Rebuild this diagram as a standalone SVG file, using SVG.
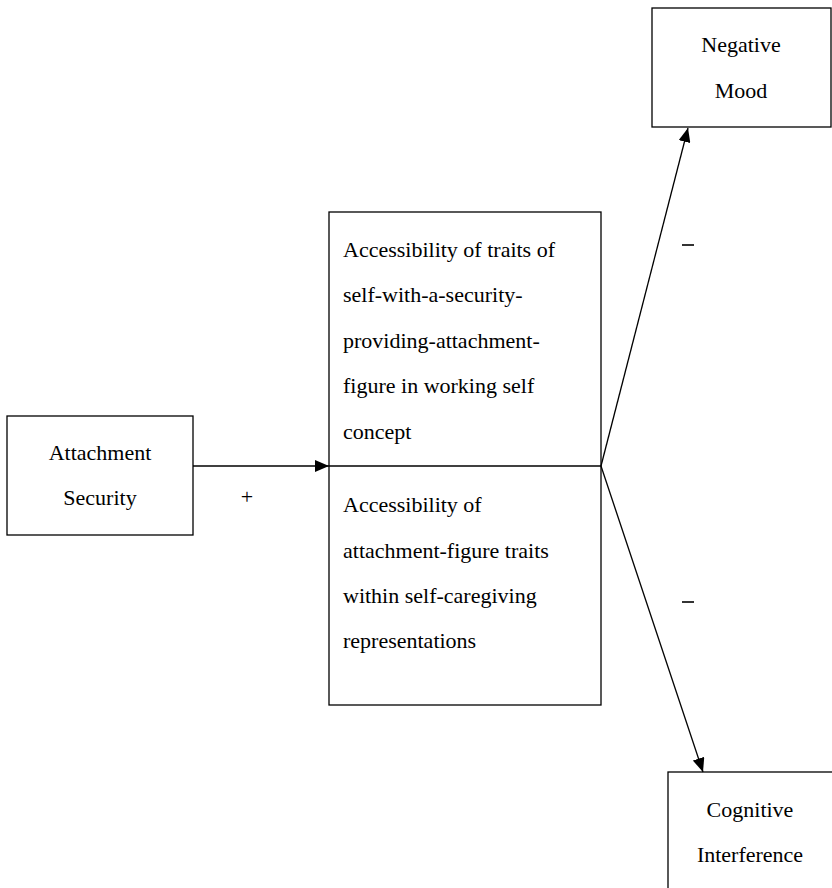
<svg xmlns="http://www.w3.org/2000/svg" width="832" height="888" viewBox="0 0 832 888">
<defs>
<style>
.box{fill:#fff;stroke:#000;stroke-width:1.3}
text{font-family:"Times New Roman","Liberation Serif","DejaVu Serif",serif;font-size:22px;fill:#000}
.c{text-anchor:middle}
.ln{stroke:#000;stroke-width:1.3;fill:none}
</style>
<marker id="ah" viewBox="0 0 14 12" refX="14" refY="6" markerWidth="14" markerHeight="12" markerUnits="userSpaceOnUse" orient="auto">
<path d="M0,0 L14,6 L0,12 Z" fill="#000"/>
</marker>
</defs>
<rect width="832" height="888" fill="#fff"/>
<g id="attachment-security">
<rect class="box" x="7" y="416" width="186" height="119"/>
<text class="c" x="100" y="460">Attachment</text>
<text class="c" x="100" y="505">Security</text>
</g>
<g id="accessibility">
<rect class="box" x="329" y="212" width="272" height="493"/>
<line class="ln" x1="329" y1="466" x2="601" y2="466"/>
<text x="343" y="257">Accessibility of traits of</text>
<text x="343" y="302">self-with-a-security-</text>
<text x="343" y="348">providing-attachment-</text>
<text x="343" y="393">figure in working self</text>
<text x="343" y="439">concept</text>
<text x="343" y="512">Accessibility of</text>
<text x="343" y="558">attachment-figure traits</text>
<text x="343" y="603">within self-caregiving</text>
<text x="343" y="648">representations</text>
</g>
<g id="negative-mood">
<rect class="box" x="652" y="8" width="179" height="119"/>
<text class="c" x="741" y="52">Negative</text>
<text class="c" x="741" y="98">Mood</text>
</g>
<g id="cognitive-interference">
<rect class="box" x="668" y="772" width="170" height="130"/>
<text class="c" x="750" y="817">Cognitive</text>
<text class="c" x="750" y="862">Interference</text>
</g>
<g id="connectors">
<line class="ln" x1="193" y1="466" x2="329" y2="466" marker-end="url(#ah)"/>
<line class="ln" x1="601" y1="466" x2="688" y2="128" marker-end="url(#ah)"/>
<line class="ln" x1="601" y1="466" x2="703" y2="772" marker-end="url(#ah)"/>
<text class="c" x="247" y="504">+</text>
<line x1="682" y1="245" x2="694" y2="245" stroke="#000" stroke-width="1.6"/>
<line x1="682" y1="602" x2="694" y2="602" stroke="#000" stroke-width="1.6"/>
</g>
</svg>
